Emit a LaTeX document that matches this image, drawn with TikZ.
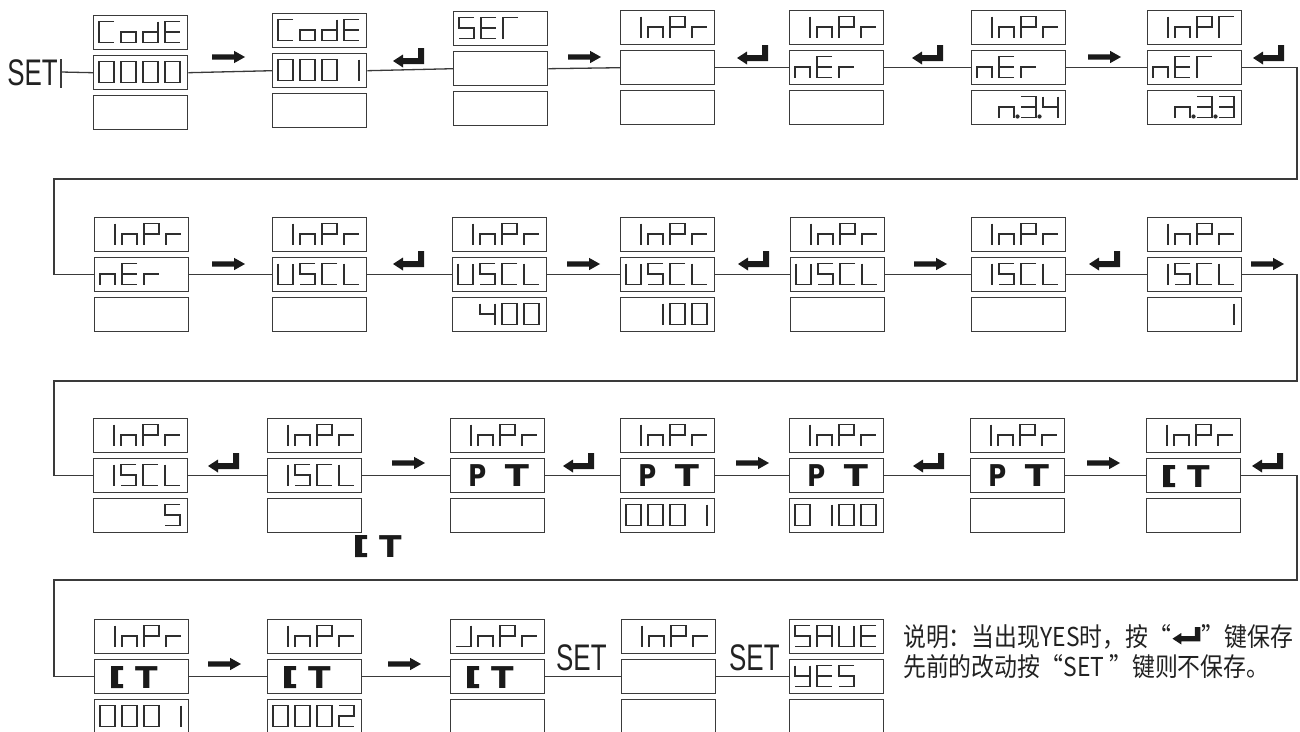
\documentclass[tikz,border=0pt]{standalone}
\usepackage{fontspec}
\usepackage{graphicx}
\usetikzlibrary{calc}
\newfontfamily\setfont[FakeStretch=0.7]{Liberation Sans}
\newfontfamily\ptfont{DejaVu Sans}
\newfontfamily\cjkfont[FakeStretch=0.88]{Noto Sans CJK SC}
\definecolor{ink}{HTML}{222222}
\definecolor{boxc}{HTML}{3A3A3A}
\definecolor{segc}{HTML}{2E2E2E}
\definecolor{arrc}{HTML}{1A1A1A}
\tikzset{
  lcdbox/.style={draw=boxc, line width=1.4pt, minimum width=94pt, minimum height=34pt, inner sep=0pt, anchor=north west},
  conn/.style={draw=boxc, line width=1.3pt},
  segline/.style={draw=segc, line width=1.2pt},
  setlabel/.style={font=\setfont\fontsize{37}{37}\selectfont, inner sep=0pt, text=ink},
  ptnode/.style={font=\ptfont\bfseries\fontsize{30}{30}\selectfont, inner sep=0pt, anchor=base west, text=arrc},
  cjk/.style={font=\cjkfont\fontsize{26}{26}\selectfont, inner sep=0pt, anchor=base west, text=ink},
  g0/.pic={\draw[segline] (0,0) rectangle (15,21);},
  g1/.pic={\draw[segline] (15,0)--(15,21);},
  g2/.pic={\draw[segline] (0,0)--(15,0)--(15,10.5)--(0,10.5)--(0,21)--(15,21);},
  g3/.pic={\draw[segline] (0,0)--(15,0)--(15,21)--(0,21) (0,10.5)--(15,10.5);},
  g4/.pic={\draw[segline] (0,0)--(0,10.5)--(15,10.5) (15,0)--(15,21);},
  g5/.pic={\draw[segline] (15,0)--(0,0)--(0,10.5)--(15,10.5)--(15,21)--(0,21);},
  gA/.pic={\draw[segline] (0,21)--(0,0)--(15,0)--(15,21) (0,10.5)--(15,10.5);},
  gC/.pic={\draw[segline] (15,0)--(0,0)--(0,21)--(15,21);},
  gd/.pic={\draw[segline] (15,0)--(15,21)--(0,21)--(0,10.5)--(15,10.5);},
  gE/.pic={\draw[segline] (15,0)--(0,0)--(0,21)--(15,21) (0,10.5)--(15,10.5);},
  gL/.pic={\draw[segline] (0,0)--(0,21)--(15,21);},
  gn/.pic={\draw[segline] (0,21)--(0,10.5)--(15,10.5)--(15,21);},
  go/.pic={\draw[segline] (0,10.5) rectangle (15,21);},
  gP/.pic={\draw[segline] (0,21)--(0,0)--(15,0)--(15,10.5)--(0,10.5);},
  gr/.pic={\draw[segline] (0,21)--(0,10.5)--(15,10.5);},
  gG/.pic={\draw[segline] (0,21)--(0,0)--(15,0);},
  gU/.pic={\draw[segline] (0,0)--(0,21)--(15,21)--(15,0);},
  gY/.pic={\draw[segline] (0,0)--(0,10.5)--(15,10.5) (15,0)--(15,21)--(0,21);},
  gJ/.pic={\draw[segline] (15,0)--(15,21)--(0,21);},
  gs/.pic={},
  gdot/.pic={\fill[segc] (18.5,20) circle (2.1);},
  rarr/.pic={\fill[arrc] (0,-2.7)--(22,-2.7)--(22,-6.2)--(33,0)--(22,6.2)--(22,2.7)--(0,2.7)--cycle;},
  earr/.pic={\fill[arrc] (31,0)--(31,16)--(10,16)--(10,19.5)--(0,13)--(10,6.5)--(10,10)--(25,10)--(25,0)--cycle;}
}
\newcommand\mkdisp[3]{%
  \node[lcdbox] (#1t) at (#2,#3) {};
  \node[lcdbox] (#1m) at (#2,{#3+40}) {};
  \node[lcdbox] (#1b) at (#2,{#3+80}) {};}
\newcommand\mklcd[6]{%
  \pic at ({#1+6},{#2+6.5}) {#3};
  \pic at ({#1+28},{#2+6.5}) {#4};
  \pic at ({#1+50},{#2+6.5}) {#5};
  \pic at ({#1+72},{#2+6.5}) {#6};}
\newcommand\mkpt[3]{%
  \node[ptnode] (#1) at ({#2+18},{#3+28}) {\scalebox{0.83}[1]{P}\hspace{18.5pt}\scalebox{1.18}[1]{T}};}
\newcommand\mkct[3]{%
  \fill[arrc] ({#2+17},{#3+7}) rectangle ++(7,22) ({#2+17},{#3+7}) rectangle ++(12,4) ({#2+17},{#3+25}) rectangle ++(12,4);
  \node[ptnode] (#1) at ({#2+41},{#3+29}) {\scalebox{1.1}[1]{T}};}
\newcommand\inpr[2]{\mklcd{#1}{#2}{g1}{gn}{gP}{gr}}
\begin{document}
\begin{tikzpicture}[x=1pt,y=-1pt]
\useasboundingbox (0,0) rectangle (1300,731);
\fill[white] (0,0) rectangle (1300,731);

% ---------- row 1 ----------
\node[setlabel, anchor=base east] (set1) at (58,85) {SET};
\coordinate (tickT) at (61,59);
\coordinate (tickB) at (61,88);
\coordinate (tickM) at (61,72);
\draw[conn] (tickT) -- (tickB);

\mkdisp{a1}{93}{15}   \mklcd{93}{15}{gC}{go}{gd}{gE}   \mklcd{93}{55}{g0}{g0}{g0}{g0}
\mkdisp{a2}{272}{13}  \mklcd{272}{13}{gC}{go}{gd}{gE}  \mklcd{272}{53}{g0}{g0}{g0}{g1}
\mkdisp{a3}{453}{11}  \mklcd{453}{11}{g5}{gE}{gG}{gs}
\mkdisp{a4}{620}{10}  \inpr{620}{10}
\mkdisp{a5}{789}{10}  \inpr{789}{10}  \mklcd{789}{50}{gn}{gE}{gr}{gs}
\mkdisp{a6}{971}{10}  \inpr{971}{10}  \mklcd{971}{50}{gn}{gE}{gr}{gs}  \mklcd{971}{90}{gs}{gn}{g3}{g4}
\pic at ({971+28},{90+6.5}) {gdot}; \pic at ({971+50},{90+6.5}) {gdot};
\mkdisp{a7}{1147}{10} \mklcd{1147}{10}{g1}{gn}{gP}{gG}  \mklcd{1147}{50}{gn}{gE}{gG}{gs}  \mklcd{1147}{90}{gs}{gn}{g3}{g3}
\pic at ({1147+28},{90+6.5}) {gdot}; \pic at ({1147+50},{90+6.5}) {gdot};

\pic at (212,57) {rarr};
\pic at (393,48) {earr};
\pic at (568,57) {rarr};
\pic at (737,45) {earr};
\pic at (912,45) {earr};
\pic at (1088,57) {rarr};
\pic at (1253,45) {earr};

\draw[conn] (tickM) -- (a1m.west);
\draw[conn] (a1m.east) -- (a2m.west);
\draw[conn] (a2m.east) -- (a3m.west);
\draw[conn] (a3m.east) -- (a4m.west);
\draw[conn] (a4m.east) -- (a5m.west);
\draw[conn] (a5m.east) -- (a6m.west);
\draw[conn] (a6m.east) -- (a7m.west);

% ---------- row 2 ----------
\mkdisp{b1}{94}{217}   \inpr{94}{217}   \mklcd{94}{257}{gn}{gE}{gr}{gs}
\mkdisp{b2}{272}{217}  \inpr{272}{217}  \mklcd{272}{257}{gU}{g5}{gC}{gL}
\mkdisp{b3}{452}{217}  \inpr{452}{217}  \mklcd{452}{257}{gU}{g5}{gC}{gL}  \mklcd{452}{297}{gs}{g4}{g0}{g0}
\mkdisp{b4}{620}{217}  \inpr{620}{217}  \mklcd{620}{257}{gU}{g5}{gC}{gL}  \mklcd{620}{297}{gs}{g1}{g0}{g0}
\mkdisp{b5}{790}{217}  \inpr{790}{217}  \mklcd{790}{257}{gU}{g5}{gC}{gL}
\mkdisp{b6}{971}{217}  \inpr{971}{217}  \mklcd{971}{257}{g1}{g5}{gC}{gL}
\mkdisp{b7}{1147}{217} \inpr{1147}{217} \mklcd{1147}{257}{g1}{g5}{gC}{gL} \mklcd{1147}{297}{gs}{gs}{gs}{g1}

\pic at (212,264) {rarr};
\pic at (393,251) {earr};
\pic at (567,264) {rarr};
\pic at (738,251) {earr};
\pic at (914,264) {rarr};
\pic at (1089,251) {earr};
\pic at (1251,264) {rarr};

\coordinate (r1R) at (1297,179);
\coordinate (r1L) at (54,179);
\draw[conn] (a7m.east) -| (r1R) -- (r1L) |- (b1m.west);
\draw[conn] (b1m.east) -- (b2m.west);
\draw[conn] (b2m.east) -- (b3m.west);
\draw[conn] (b3m.east) -- (b4m.west);
\draw[conn] (b4m.east) -- (b5m.west);
\draw[conn] (b5m.east) -- (b6m.west);
\draw[conn] (b6m.east) -- (b7m.west);

% ---------- row 3 ----------
\mkdisp{c1}{93}{418}   \inpr{93}{418}   \mklcd{93}{458}{g1}{g5}{gC}{gL}  \mklcd{93}{498}{gs}{gs}{gs}{g5}
\mkdisp{c2}{267}{418}  \inpr{267}{418}  \mklcd{267}{458}{g1}{g5}{gC}{gL}
\mkdisp{c3}{450}{418}  \inpr{450}{418}  \mkpt{pt1}{450}{458}
\mkdisp{c4}{620}{418}  \inpr{620}{418}  \mkpt{pt2}{620}{458}  \mklcd{620}{498}{g0}{g0}{g0}{g1}
\mkdisp{c5}{789}{418}  \inpr{789}{418}  \mkpt{pt3}{789}{458}  \mklcd{789}{498}{g0}{g1}{g0}{g0}
\mkdisp{c6}{970}{418}  \inpr{970}{418}  \mkpt{pt4}{970}{458}
\mkdisp{c7}{1146}{418} \inpr{1146}{418} \mkct{ct1}{1146}{458}
\mkct{ct0}{338}{528}

\pic at (208,453) {earr};
\pic at (392,463) {rarr};
\pic at (563,453) {earr};
\pic at (736,463) {rarr};
\pic at (913,453) {earr};
\pic at (1087,463) {rarr};
\pic at (1252,453) {earr};

\coordinate (r2R) at (1297,381);
\coordinate (r2L) at (54,381);
\draw[conn] (b7m.east) -| (r2R) -- (r2L) |- (c1m.west);
\draw[conn] (c1m.east) -- (c2m.west);
\draw[conn] (c2m.east) -- (c3m.west);
\draw[conn] (c3m.east) -- (c4m.west);
\draw[conn] (c4m.east) -- (c5m.west);
\draw[conn] (c5m.east) -- (c6m.west);
\draw[conn] (c6m.east) -- (c7m.west);

% ---------- row 4 ----------
\mkdisp{d1}{94}{619}   \inpr{94}{619}   \mkct{ct2}{94}{659}   \mklcd{94}{699}{g0}{g0}{g0}{g1}
\mkdisp{d2}{267}{619}  \inpr{267}{619}  \mkct{ct3}{267}{659}  \mklcd{267}{699}{g0}{g0}{g0}{g2}
\mkdisp{d3}{450}{619}  \mklcd{450}{619}{gJ}{gn}{gP}{gr}  \mkct{ct4}{450}{659}
\mkdisp{d4}{621}{619}  \inpr{621}{619}
\mkdisp{d5}{789}{619}  \mklcd{789}{619}{g5}{gA}{gU}{gE}  \mklcd{789}{659}{gY}{gE}{g5}{gs}

\pic at (208,664) {rarr};
\pic at (388,664) {rarr};

\coordinate (r3R) at (1297,580);
\coordinate (r3L) at (54,580);
\draw[conn] (c7m.east) -| (r3R) -- (r3L) |- (d1m.west);
\draw[conn] (d1m.east) -- (d2m.west);
\draw[conn] (d2m.east) -- (d3m.west);
\draw[conn] (d3m.east) -- (d4m.west);
\draw[conn] (d4m.east) -- (d5m.west);

\node[setlabel, anchor=base west] (set2) at (556,670) {SET};
\node[setlabel, anchor=base west] (set3) at (729,670) {SET};

% ---------- note ----------
\node[cjk] (t1a) at (903,646) {说明：当出现YES时，按“};
\pic[scale=0.9] at ($(t1a.base east)+(1,-19)$) {earr};
\node[cjk] (t1b) at ($(t1a.base east)+(30,0)$) {”键保存};
\node[cjk] (t2) at (903,676) {先前的改动按“SET ”键则不保存。};
\end{tikzpicture}
\end{document}
